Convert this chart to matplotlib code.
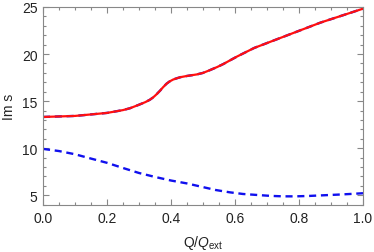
import matplotlib.pyplot as plt
from matplotlib.ticker import MultipleLocator

# red curve (and the dashed blue branch lying under it)
q_up = [0.0, 0.1, 0.2, 0.25, 0.272, 0.3, 0.32, 0.334, 0.345, 0.354, 0.366, 0.375,
        0.386, 0.395, 0.407, 0.42, 0.43, 0.449, 0.481, 0.5, 0.522, 0.544, 0.564,
        0.58, 0.607, 0.66, 0.763, 0.867, 1.0]
im_up = [13.32, 13.43, 13.75, 14.05, 14.25, 14.62, 14.9, 15.15, 15.42, 15.7, 16.12, 16.47,
         16.85, 17.08, 17.3, 17.45, 17.55, 17.67, 17.84, 18.0, 18.3, 18.62, 18.95,
         19.25, 19.75, 20.65, 21.99, 23.34, 24.82]

# lower dashed blue curve
q_low = [0.0, 0.05, 0.1, 0.15, 0.2, 0.25, 0.3, 0.35, 0.4, 0.45, 0.5, 0.54, 0.583,
         0.625, 0.667, 0.71, 0.75, 0.79, 0.83, 0.875, 0.92, 0.96, 1.0]
im_low = [9.93, 9.7, 9.36, 8.9, 8.45, 7.9, 7.37, 6.95, 6.57, 6.26, 5.87, 5.56, 5.32,
          5.14, 5.04, 4.94, 4.89, 4.89, 4.93, 5.0, 5.07, 5.14, 5.22]

plt.rcParams['font.family'] = ['Liberation Sans', 'DejaVu Sans']
plt.rcParams['mathtext.fontset'] = 'custom'
plt.rcParams['mathtext.rm'] = 'Liberation Sans'
plt.rcParams['mathtext.it'] = 'Liberation Sans:italic'

fig = plt.figure(figsize=(3.74, 2.53), dpi=100)
ax = fig.add_axes([43 / 374, 1 - 206 / 253, 320 / 374, 198 / 253])

ax.plot(q_low, im_low, color='#1010ee', lw=1.7, ls=(0, (3, 2)))
ax.plot(q_up, im_up, color='#1010ee', lw=1.7, ls=(0, (3, 2)))
ax.plot(q_up, im_up, color='#ff1010', lw=1.6)

ax.set_xlim(0, 1)
ax.set_ylim(3.97, 25)
ax.xaxis.set_major_locator(MultipleLocator(0.2))
ax.xaxis.set_minor_locator(MultipleLocator(0.05))
ax.yaxis.set_major_locator(MultipleLocator(5))
ax.yaxis.set_minor_locator(MultipleLocator(1))
ax.xaxis.set_major_formatter(lambda v, p: f'{v:.1f}')
ax.tick_params(which='both', direction='in', top=True, right=True, color='#888888',
               labelsize=10, labelcolor='#222222', width=0.8)
ax.tick_params(which='major', length=4.5, pad=4)
ax.tick_params(which='minor', length=2.5)
for s in ax.spines.values():
    s.set_color('#888888')
    s.set_linewidth(0.8)

ax.set_xlabel(r'Q/$\mathit{Q}_{\mathrm{ext}}$', fontsize=10, color='#222222', labelpad=6)
ax.set_ylabel('Im s', fontsize=10, color='#222222', labelpad=4)

fig.savefig('out.png', dpi=100)
